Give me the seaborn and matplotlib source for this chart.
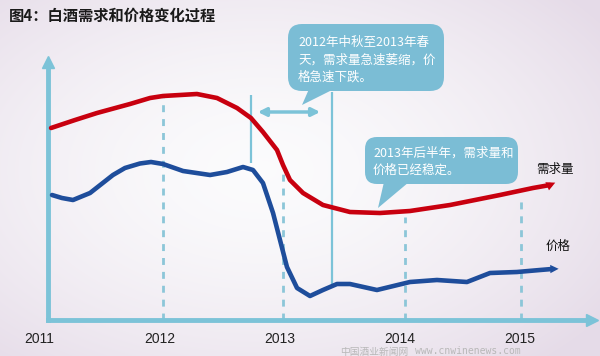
import numpy as np
import pandas as pd
import matplotlib
matplotlib.use("Agg")
import matplotlib.pyplot as plt
import seaborn as sns
from matplotlib.patches import FancyBboxPatch, Polygon

# data (x = year, y = relative level)
demand_x = [2011.067, 2011.267, 2011.45, 2011.725, 2011.892, 2012.0, 2012.142, 2012.283, 2012.45,
            2012.617, 2012.733, 2012.833, 2012.95, 2013.0, 2013.058, 2013.167, 2013.333, 2013.558,
            2013.808, 2014.058, 2014.392, 2014.808, 2015.083, 2015.225]
demand_y = [76.8, 80.0, 82.8, 86.4, 88.8, 89.6, 90.0, 90.4, 88.8,
            84.8, 80.8, 75.2, 68.0, 62.0, 56.0, 50.8, 46.0, 43.2,
            42.8, 43.6, 46.0, 50.0, 52.8, 54.0]
price_x = [2011.075, 2011.158, 2011.25, 2011.392, 2011.583, 2011.683, 2011.808, 2011.9, 2012.0,
           2012.167, 2012.392, 2012.533, 2012.667, 2012.75, 2012.833, 2012.917, 2012.975, 2013.033,
           2013.117, 2013.225, 2013.333, 2013.45, 2013.558, 2013.783, 2014.058, 2014.283, 2014.533,
           2014.725, 2014.95, 2015.142, 2015.242]
price_y = [50.0, 48.8, 48.0, 50.8, 58.0, 60.8, 62.6, 63.2, 62.4,
           59.6, 58.0, 59.2, 61.2, 60.0, 54.8, 42.8, 32.0, 21.2,
           12.8, 9.6, 12.0, 14.4, 14.4, 12.0, 15.2, 16.0, 15.2,
           18.8, 19.2, 20.0, 20.4]
years = [2011, 2012, 2013, 2014, 2015]
guide_x = [2012, 2013, 2014.02, 2014.98]
guide_top = [89.2, 60.0, 41.2, 49.2]

title = "图4：白酒需求和价格变化过程"
note1 = "2012年中秋至2013年春\n天，需求量急速萎缩，价\n格急速下跌。"
note2 = "2013年后半年，需求量和\n价格已经稳定。"

sns.set_style("white")
plt.rcParams["font.family"] = ["Noto Sans CJK SC", "DejaVu Sans"]

red = "#C8000F"
blue = "#1E4D9B"
axis_c = "#7CC3D8"
bubble_c = "#7BBDD5"

W, H = 600, 356
fig = plt.figure(figsize=(6, 3.56), dpi=100)

# soft background
bg = fig.add_axes([0, 0, 1, 1], zorder=0)
yy, xx = np.mgrid[0:H, 0:W]
d = np.sqrt(((xx - 260) / 420) ** 2 + ((yy - 170) / 260) ** 2)
d = np.clip(d, 0, 1)
c0 = np.array([0.985, 0.985, 0.99])
c1 = np.array([0.90, 0.86, 0.91])
img = c0 + (c1 - c0) * d[..., None] ** 1.6
bg.imshow(img, extent=(0, W, H, 0), aspect="auto")
bg.set_axis_off()

# main chart
x0, x1, ytop, ybot = 48, 592, 62, 320
ax = fig.add_axes([x0 / W, (H - ybot) / H, (x1 - x0) / W, (ybot - ytop) / H], zorder=1)
ax.patch.set_alpha(0)
ax.set_xlim(2011 + (x0 - 43) / 120, 2011 + (x1 - 43) / 120)
ax.set_ylim(0, (ybot - ytop) / 2.5)

ax.vlines(guide_x, 0, guide_top, colors="#8CC6D8", linestyles=(0, (2.5, 2.5)), lw=2, zorder=1)

df_d = pd.DataFrame({"x": demand_x, "y": demand_y})
df_p = pd.DataFrame({"x": price_x, "y": price_y})
sns.lineplot(data=df_d, x="x", y="y", ax=ax, color=red, lw=3.3, sort=False, zorder=3,
             solid_joinstyle="round", solid_capstyle="round")
sns.lineplot(data=df_p, x="x", y="y", ax=ax, color=blue, lw=3.3, sort=False, zorder=3,
             solid_joinstyle="round", solid_capstyle="round")
ax.annotate("", xy=(2015.29, 55.4), xytext=(demand_x[-1], demand_y[-1]),
            arrowprops=dict(arrowstyle="-|>", color=red, lw=0, mutation_scale=16), zorder=4)
ax.annotate("", xy=(2015.32, 20.5), xytext=(price_x[-1], price_y[-1]),
            arrowprops=dict(arrowstyle="-|>", color=blue, lw=0, mutation_scale=15), zorder=4)

# marker lines for the fast drop period
ax.vlines([2012.733], 62.8, 90.0, colors=axis_c, lw=1.6, zorder=2)
ax.vlines([2013.408], 14.0, 91.2, colors=axis_c, lw=1.6, zorder=2)
ax.annotate("", xy=(2012.79, 83.2), xytext=(2013.31, 83.2),
            arrowprops=dict(arrowstyle="<|-|>", color=axis_c, lw=2.5, mutation_scale=12,
                            shrinkA=0, shrinkB=0), zorder=2)

for s in ["top", "right"]:
    ax.spines[s].set_visible(False)
for s in ["left", "bottom"]:
    ax.spines[s].set_color(axis_c)
    ax.spines[s].set_linewidth(3.5)
ax.plot(1, 0, ">", transform=ax.transAxes, clip_on=False, color=axis_c, ms=9)
ax.plot(0, 1, "^", transform=ax.transAxes, clip_on=False, color=axis_c, ms=9)
ax.set_yticks([])
ax.set_xticks([])
ax.set_xlabel("")
ax.set_ylabel("")
for yr in years:
    ax.text(yr - 0.03, -7.6, str(yr), ha="center", va="center", fontsize=10,
            family=["Liberation Sans", "DejaVu Sans"], color="#222222", clip_on=False)

# overlay in pixel coordinates for title and callouts
ov = fig.add_axes([0, 0, 1, 1], zorder=2)
ov.set_xlim(0, W)
ov.set_ylim(H, 0)
ov.set_axis_off()
ov.patch.set_alpha(0)

ov.text(9, 16, title, fontsize=11, fontweight="bold", va="center", ha="left", color="#1a1a1a")

ov.add_patch(FancyBboxPatch((288, 24), 156, 67, boxstyle="round,pad=0,rounding_size=14",
                            fc=bubble_c, ec="none"))
ov.add_patch(Polygon([(309, 89), (334, 89), (302, 105)], closed=True, fc=bubble_c, ec="none"))
ov.text(298, 60, note1, fontsize=9, color="white", va="center", ha="left", linespacing=1.45)

ov.add_patch(FancyBboxPatch((365, 137), 153, 47, boxstyle="round,pad=0,rounding_size=12",
                            fc=bubble_c, ec="none"))
ov.add_patch(Polygon([(384, 182), (409, 182), (378, 208)], closed=True, fc=bubble_c, ec="none"))
ov.text(373, 162, note2, fontsize=9, color="white", va="center", ha="left", linespacing=1.45)

ov.text(555, 169, "需求量", fontsize=9, ha="center", va="center", color="#111111")
ov.text(558, 246, "价格", fontsize=9, ha="center", va="center", color="#111111")

# site watermark, kept just under the year labels
ov.text(340, 351.5, "中国酒业新闻网", fontsize=7, color="#b8b8b8", va="center", ha="left")
ov.text(415, 351.5, "www.cnwinenews.com", fontsize=7, color="#b8b8b8", va="center",
        ha="left", family=["DejaVu Sans Mono", "DejaVu Sans"])

fig.savefig("out.png", dpi=100)
